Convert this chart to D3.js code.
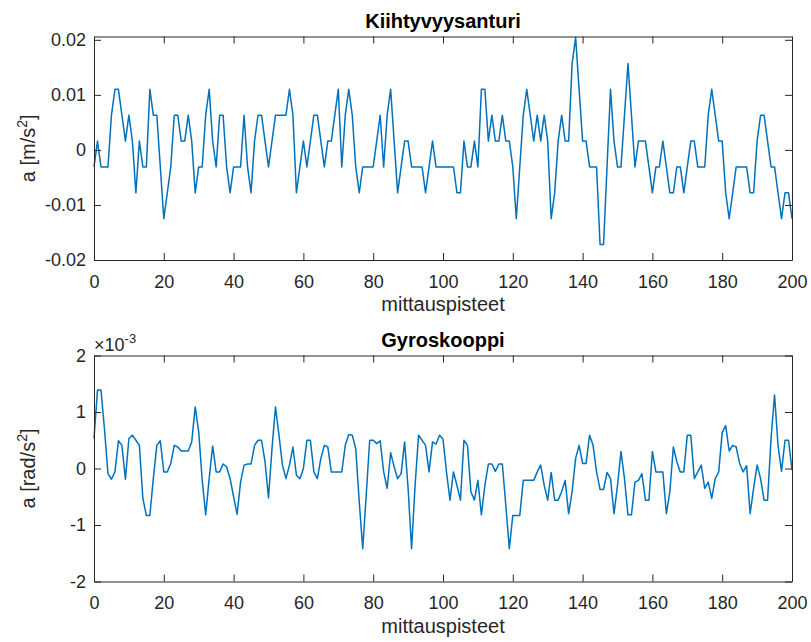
<!DOCTYPE html>
<html>
<head>
<meta charset="utf-8">
<script src="https://cdn.jsdelivr.net/npm/d3@7"></script>
<style>
  body { margin: 0; background: #fff; }
  svg text { font-family: "Liberation Sans", Arial, Helvetica, sans-serif; }
</style>
</head>
<body>
<svg id="chart" width="811" height="642"></svg>
<script>
// ---- Data ----
const xTicks = [0, 20, 40, 60, 80, 100, 120, 140, 160, 180, 200];
const accTicks = [-0.02, -0.01, 0, 0.01, 0.02];
const gyroTicks = [-2, -1, 0, 1, 2];   // in units of 1e-3 rad/s^2

// Kiihtyvyysanturi: a [m/s^2], one value per measurement point 0..200
const accValues = [
  -0.0031, 0.0016, -0.0031, -0.0031, -0.0031, 0.0063, 0.011, 0.011, 0.0063, 0.0016,
  0.0063, 0.0016, -0.0078, 0.0016, -0.0031, -0.0031, 0.011, 0.0063, 0.0063, -0.0031,
  -0.0125, -0.0078, -0.0031, 0.0063, 0.0063, 0.0016, 0.0016, 0.0063, 0.0016, -0.0078,
  -0.0031, -0.0031, 0.0063, 0.011, 0.0016, -0.0031, 0.0063, 0.0063, -0.0031, -0.0078,
  -0.0031, -0.0031, -0.0031, 0.0063, -0.0031, -0.0078, 0.0016, 0.0063, 0.0063, 0.0016,
  -0.0031, 0.0016, 0.0063, 0.0063, 0.0063, 0.0063, 0.011, 0.0063, -0.0078, -0.0031,
  0.0016, -0.0031, 0.0016, 0.0063, 0.0063, 0.0016, -0.0031, 0.0016, 0.0016, 0.0063,
  0.011, -0.0031, 0.0063, 0.011, 0.0063, -0.0031, -0.0078, -0.0031, -0.0031, -0.0031,
  -0.0031, 0.0016, 0.0063, -0.0031, 0.0063, 0.011, 0.0016, -0.0078, -0.0031, 0.0016,
  0.0016, -0.0031, -0.0031, -0.0031, -0.0031, -0.0078, -0.0031, 0.0016, -0.0031, -0.0031,
  -0.0031, -0.0031, -0.0031, -0.0031, -0.0078, -0.0078, 0.0016, -0.0031, -0.0031, 0.0016,
  -0.0031, 0.011, 0.011, 0.0016, 0.0063, 0.0016, 0.0016, 0.0063, 0.0016, 0.0016,
  -0.0031, -0.0125, -0.0031, 0.0063, 0.011, 0.0063, 0.0016, 0.0063, 0.0016, 0.0063,
  0.0016, -0.0125, -0.0078, 0.0016, 0.0063, 0.0016, 0.0016, 0.0157, 0.0204, 0.011,
  0.0016, 0.0016, -0.0031, -0.0031, -0.0031, -0.0172, -0.0172, -0.0031, 0.011, 0.0016,
  -0.0031, -0.0031, 0.0063, 0.0157, 0.0063, -0.0031, 0.0016, 0.0016, 0.0016, -0.0031,
  -0.0078, -0.0031, -0.0031, 0.0016, -0.0031, -0.0078, -0.0078, -0.0031, -0.0031, -0.0078,
  -0.0031, 0.0016, 0.0016, -0.0031, -0.0031, -0.0031, 0.0063, 0.011, 0.0063, 0.0016,
  0.0016, -0.0078, -0.0125, -0.0078, -0.0031, -0.0031, -0.0031, -0.0031, -0.0078, -0.0078,
  0.0016, 0.0063, 0.0063, 0.0016, -0.0031, -0.0031, -0.0078, -0.0125, -0.0078, -0.0078,
  -0.0125
];

// Gyroskooppi: a [rad/s^2] x 1e-3, one value per measurement point 0..200
const gyroValues = [
  0.53, 1.39, 1.39, 0.7, -0.09, -0.19, -0.06, 0.49, 0.41, -0.19,
  0.53, 0.59, 0.5, 0.41, -0.53, -0.83, -0.83, -0.18, 0.41, 0.49,
  -0.06, -0.06, 0.09, 0.41, 0.38, 0.31, 0.31, 0.31, 0.47, 1.09,
  0.65, -0.2, -0.82, -0.18, 0.4, -0.06, -0.06, 0.08, 0.03, -0.18,
  -0.5, -0.81, -0.24, 0.06, 0.08, 0.08, 0.41, 0.5, 0.5, 0.12,
  -0.52, 0.35, 1.09, 0.59, 0.06, -0.18, 0.06, 0.38, -0.12, -0.18,
  0, 0.5, 0.5, -0.06, -0.18, 0.18, 0.41, 0.38, -0.06, -0.06,
  -0.06, -0.06, 0.41, 0.6, 0.59, 0.35, -0.59, -1.42, -0.47, 0.5,
  0.5, 0.44, 0.49, -0.06, -0.35, 0.28, 0.03, -0.18, -0.09, 0.47,
  -0.35, -1.42, -0.3, 0.59, 0.5, 0.41, -0.06, 0.47, 0.43, 0.59,
  0.52, -0.06, -0.56, -0.06, -0.3, -0.56, 0.5, 0.41, -0.41, -0.56,
  -0.21, -0.82, -0.3, 0.08, 0.08, -0.05, 0.08, 0.08, -0.65, -1.42,
  -0.83, -0.83, -0.83, -0.21, -0.21, -0.21, -0.21, -0.06, 0.06, -0.3,
  -0.56, -0.07, -0.56, -0.56, -0.41, -0.21, -0.8, -0.41, 0.18, 0.41,
  0.09, 0.09, 0.59, 0.41, -0.06, -0.37, -0.37, -0.07, -0.18, -0.8,
  -0.3, 0.3, -0.18, -0.82, -0.82, -0.24, -0.21, -0.09, -0.56, -0.56,
  0.3, -0.06, -0.06, -0.06, -0.8, -0.41, 0.38, 0.12, -0.06, -0.06,
  0.59, 0.59, -0.18, -0.06, 0.06, -0.35, -0.24, -0.53, -0.18, -0.06,
  0.64, 0.76, 0.31, 0.41, 0.38, 0.09, -0.06, 0.05, -0.8, -0.35,
  0.06, -0.18, -0.56, -0.56, 0.53, 1.3, 0.41, -0.05, 0.5, 0.5,
  -0.03
];

// ---- Drawing ----
const svg = d3.select("#chart");
const AX = "#262626";
const LINE = "#0072BD";
const left = 94, right = 792;

const x = d3.scaleLinear().domain([0, 200]).range([left, right]);

function panel(opts) {
  const y = d3.scaleLinear().domain(opts.yDomain).range([opts.bottom, opts.top]);
  const g = svg.append("g");

  // data line
  const line = d3.line().x((d, i) => x(i)).y(d => y(d));
  g.append("path")
    .datum(opts.values)
    .attr("d", line)
    .attr("fill", "none")
    .attr("stroke", LINE)
    .attr("stroke-width", 1.5)
    .attr("stroke-linejoin", "round");

  const style = sel => {
    sel.select(".domain").attr("stroke", AX).attr("stroke-width", 1);
    sel.selectAll(".tick line").attr("stroke", AX).attr("stroke-width", 1);
    sel.selectAll(".tick text").attr("fill", AX).attr("font-size", 18)
      .attr("font-family", "'Liberation Sans', Arial, sans-serif");
  };

  g.append("g").attr("transform", `translate(0,${opts.bottom})`)
    .call(d3.axisBottom(x).tickValues(xTicks).tickSize(-7).tickSizeOuter(0).tickPadding(15).tickFormat(d => String(d)))
    .call(style);
  g.append("g").attr("transform", `translate(0,${opts.top})`)
    .call(d3.axisTop(x).tickValues(xTicks).tickSize(-7).tickSizeOuter(0).tickFormat(""))
    .call(style);
  g.append("g").attr("transform", `translate(${left},0)`)
    .call(d3.axisLeft(y).tickValues(opts.yTicks).tickSize(-7).tickSizeOuter(0).tickPadding(8).tickFormat(d => String(d)))
    .call(style);
  g.append("g").attr("transform", `translate(${right},0)`)
    .call(d3.axisRight(y).tickValues(opts.yTicks).tickSize(-7).tickSizeOuter(0).tickFormat(""))
    .call(style);

  // title
  g.append("text")
    .attr("x", (left + right) / 2).attr("y", opts.top - 9)
    .attr("text-anchor", "middle")
    .attr("font-size", 20).attr("font-weight", "bold").attr("fill", "#000")
    .text(opts.title);

  // x label
  g.append("text")
    .attr("x", (left + right) / 2).attr("y", opts.bottom + 51)
    .attr("text-anchor", "middle")
    .attr("font-size", 20).attr("fill", AX)
    .text("mittauspisteet");

  // y label with superscript
  const cy = (opts.top + opts.bottom) / 2;
  const yl = g.append("text")
    .attr("transform", `translate(35,${cy}) rotate(-90)`)
    .attr("text-anchor", "middle")
    .attr("font-size", 20).attr("fill", AX);
  yl.append("tspan").text(opts.ylabel);
  yl.append("tspan").attr("font-size", 14).attr("dy", -8).text("2");
  yl.append("tspan").attr("dy", 8).text("]");

  return { y, g };
}

panel({
  top: 36.5, bottom: 260, yDomain: [-0.02, 0.0206],
  values: accValues, yTicks: accTicks,
  title: "Kiihtyvyysanturi", ylabel: "a [m/s"
});

panel({
  top: 355.5, bottom: 581.5, yDomain: [-2, 2],
  values: gyroValues, yTicks: gyroTicks,
  title: "Gyroskooppi", ylabel: "a [rad/s"
});

// exponent label
const ex = svg.append("text")
  .attr("x", left).attr("y", 351)
  .attr("font-size", 18).attr("fill", AX);
ex.append("tspan").text("\u00d710");
ex.append("tspan").attr("font-size", 13).attr("dy", -8).text("-3");
</script>
</body>
</html>
